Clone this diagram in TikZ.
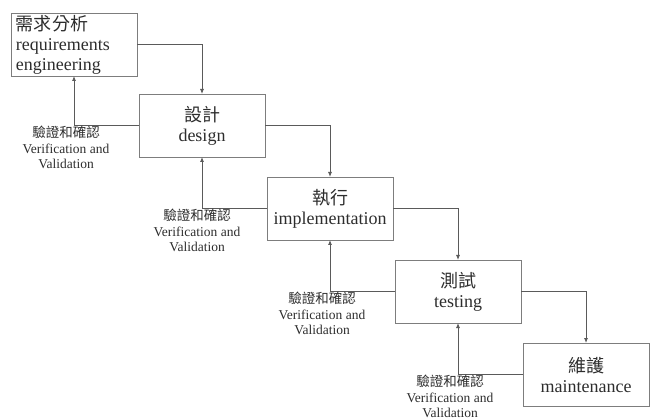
\documentclass[tikz,border=0pt]{standalone}
\usepackage{fontspec}
\setmainfont{Liberation Serif}
\newfontfamily\zhfont{Noto Sans CJK TC}
\usepackage{tikz}
\usetikzlibrary{positioning, arrows.meta}
\definecolor{boxgray}{RGB}{125,125,125}
\definecolor{linegray}{RGB}{90,90,90}
\definecolor{textgray}{RGB}{45,45,45}

\begin{document}
\begin{tikzpicture}[
    node distance=20pt and 2pt,
    every node/.style={align=center, text=textgray},
    block_stage/.style={
        rectangle,
        draw=boxgray,
        line width=0.8pt,
        text width=116pt,
        inner xsep=5pt,
        inner ysep=1pt,
        minimum height=63pt,
        outer sep=0pt,
        font=\fontsize{18}{20}\selectfont
    },
    label_vv/.style={
        inner sep=0.5pt,
        font=\fontsize{13.5}{15.5}\selectfont
    },
    arrow/.style = {draw=linegray, line width=0.8pt, -{Latex[length=5pt,width=4pt]}}
]
    \useasboundingbox (0,0) rectangle (650pt,-419pt);
    % 阶段节点
    \node [block_stage, align=left, anchor=north west] (req) at (11pt,-13pt) {
        {\zhfont 需求分析}\\
        requirements\\
        engineering
    };
    \node [block_stage, below right=18pt and 2pt of req.south east] (des) {
        {\zhfont 設計}\\
        design
    };
    \node [block_stage, below right=of des.south east] (imp) {
        {\zhfont 執行}\\
        implementation
    };
    \node [block_stage, below right=of imp.south east] (tst) {
        {\zhfont 測試}\\
        testing
    };
    \node [block_stage, below right=of tst.south east] (mnt) {
        {\zhfont 維護}\\
        maintenance
    };
    % 向下的箭头
    \draw [arrow] (req.east) -| (des.north);
    \draw [arrow] (des.east) -| (imp.north);
    \draw [arrow] (imp.east) -| (tst.north);
    \draw [arrow] (tst.east) -| (mnt.north);
    % 回馈箭头
    \draw [arrow] (des.west) -| (req.south);
    \draw [arrow] (imp.west) -| (des.south);
    \draw [arrow] (tst.west) -| (imp.south);
    \draw [arrow] (mnt.west) -| (tst.south);
    % 验证标签
    \coordinate (c1) at (req.south |- des.west);
    \coordinate (c2) at (des.south |- imp.west);
    \coordinate (c3) at (imp.south |- tst.west);
    \coordinate (c4) at (tst.south |- mnt.west);
    \node [label_vv, below=0pt of c1, xshift=-8pt] (vv1) {
        {\zhfont 驗證和確認}\\
        Verification and\\
        Validation
    };
    \node [label_vv, below=0pt of c2, xshift=-5pt] (vv2) {
        {\zhfont 驗證和確認}\\
        Verification and\\
        Validation
    };
    \node [label_vv, below=0pt of c3, xshift=-8pt] (vv3) {
        {\zhfont 驗證和確認}\\
        Verification and\\
        Validation
    };
    \node [label_vv, below=0pt of c4, xshift=-8pt] (vv4) {
        {\zhfont 驗證和確認}\\
        Verification and\\
        Validation
    };
\end{tikzpicture}
\end{document}
